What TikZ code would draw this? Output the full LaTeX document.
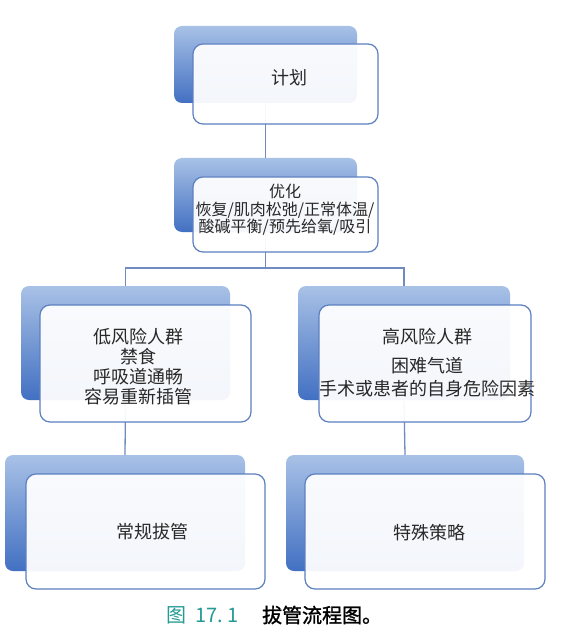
\documentclass[tikz,border=0pt]{standalone}
\usepackage{fontspec}
\setmainfont{Noto Sans CJK SC}
\newfontfamily\capbold[FakeBold=1.3]{Noto Sans CJK SC}
\usetikzlibrary{positioning}
\definecolor{edgeblue}{RGB}{92,128,192}
\definecolor{connblue}{RGB}{112,140,190}
\definecolor{backtop}{RGB}{168,193,230}
\definecolor{backbot}{RGB}{66,112,194}
\definecolor{txtgray}{RGB}{40,40,40}
\definecolor{capteal}{RGB}{38,154,150}
\tikzset{
  backbox/.style={rectangle, rounded corners=8pt, inner sep=0pt, outer sep=0pt,
    top color=backtop, bottom color=backbot, draw=none},
  frontbox/.style={rectangle, rounded corners=10pt, inner sep=0pt, outer sep=0pt,
    draw=edgeblue, line width=1.2pt, fill=white, fill opacity=0.94},
  conn/.style={draw=connblue, line width=1.3pt},
  boxtext/.style={align=center, text=txtgray, inner sep=0pt, font=\fontsize{18}{20}\selectfont},
  smalltext/.style={align=center, text=txtgray, inner sep=0pt, font=\fontsize{16}{17.5}\selectfont}
}
\begin{document}
\begin{tikzpicture}[x=1pt,y=-1pt]
\useasboundingbox[fill=white] (0,0) rectangle (562,644);
% back boxes
\node[backbox, minimum width=183pt, minimum height=77pt] (b1) at (265.5,64.5) {};
\node[backbox, minimum width=183pt, minimum height=74pt] (b2) at (265.5,195) {};
\node[backbox, minimum width=209pt, minimum height=114pt] (b3) at (125.5,343) {};
\node[backbox, minimum width=212pt, minimum height=114pt] (b4) at (404,343) {};
\node[backbox, minimum width=240pt, minimum height=116pt] (b5) at (125,513) {};
\node[backbox, minimum width=238pt, minimum height=116pt] (b6) at (405,513) {};
% connectors
\coordinate (j) at (265.5,268);
\draw[conn] (b1.south) -- (b2.north);
\draw[conn] (b2.south) -- (j);
\draw[conn] (b3.north) |- (j) -| (b4.north);
\draw[conn] (b3.south) -- (b5.north);
\draw[conn] (b4.south) -- (b6.north);
% front boxes
\node[frontbox, minimum width=185pt, minimum height=80pt] (f1) at (285.5,84) {};
\node[frontbox, minimum width=185pt, minimum height=75pt] (f2) at (285.5,214.5) {};
\node[frontbox, minimum width=211pt, minimum height=117pt] (f3) at (145.5,363.5) {};
\node[frontbox, minimum width=212pt, minimum height=117pt] (f4) at (425,363.5) {};
\node[frontbox, minimum width=239pt, minimum height=115pt] (f5) at (145.5,531.5) {};
\node[frontbox, minimum width=240pt, minimum height=115pt] (f6) at (425,531.5) {};
% texts
\node[boxtext] (t1) at (289,78) {计划};
\node[smalltext] (t2) at (285,210) {优化\\恢复/肌肉松弛/正常体温/\\酸碱平衡/预先给氧/吸引};
\node[boxtext] (t3) at (138,367) {低风险人群\\禁食\\呼吸道通畅\\容易重新插管};
\node[boxtext, font=\fontsize{18}{23}\selectfont] (t4) at (427,363) {高风险人群\\[6pt]困难气道\\手术或患者的自身危险因素};
\node[boxtext] (t5) at (152,532) {常规拔管};
\node[boxtext] (t6) at (429,533) {特殊策略};
% caption
\node[inner sep=0pt, anchor=west, font=\fontsize{20}{22}\selectfont] (cap) at (166,615)
  {{\color{capteal}图\hspace{0.45em}17.\hspace{0.25em}1}\hspace{1.15em}{\capbold 拔管流程图。}};
\end{tikzpicture}
\end{document}
